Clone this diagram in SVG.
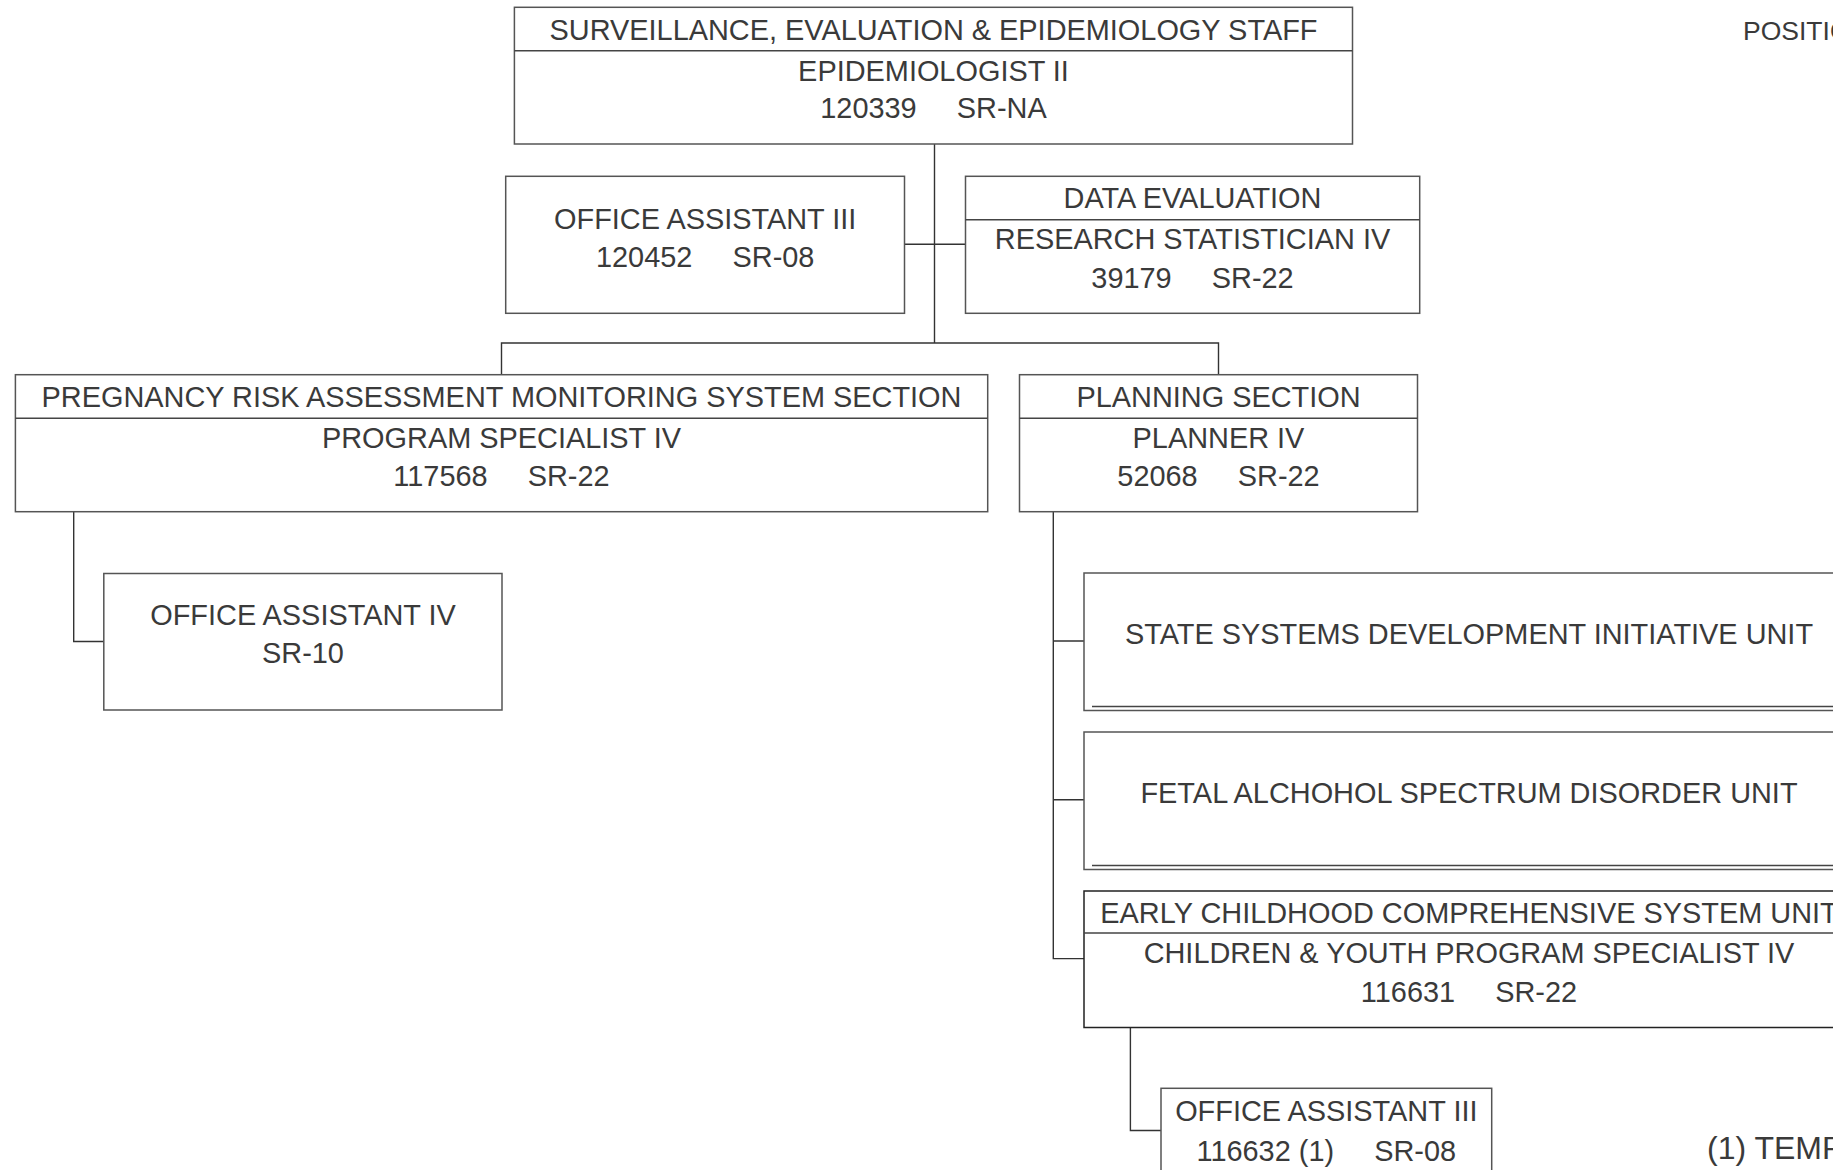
<svg xmlns="http://www.w3.org/2000/svg" width="1833" height="1170" viewBox="0 0 1833 1170">
<style>
.box{fill:#fff;stroke:#555;stroke-width:1.5}
.div{stroke:#444;stroke-width:1.5;fill:none}
.con{stroke:#333;stroke-width:1.4;fill:none}
text{font-family:"Liberation Sans",Arial,sans-serif;font-size:28.9px;fill:#3a3a3a;text-anchor:middle;white-space:pre}
.left{text-anchor:start}
</style>
<rect width="1833" height="1170" fill="#fff"/>
<g id="connectors">
<path class="con" d="M934.5 144V343M904.5 244.2H965.5M501.5 375V343H1218.5V375"/>
<path class="con" d="M73.7 511.7V641.5H103.8"/>
<path class="con" d="M1053.3 511.7V958.6H1084M1053.3 641H1084M1053.3 799.8H1084"/>
<path class="con" d="M1130.4 1027.5V1130.5H1161"/>
</g>
<g id="n-top">
<rect class="box" x="514.4" y="7.3" width="838.1" height="136.7"/>
<line class="div" x1="514.4" y1="50.7" x2="1352.5" y2="50.7"/>
<text x="933.5" y="39.5">SURVEILLANCE, EVALUATION &amp; EPIDEMIOLOGY STAFF</text>
<text x="933.5" y="81.3">EPIDEMIOLOGIST II</text>
<text x="933.5" y="117.5">120339     SR-NA</text>
</g>
<g id="n-oa3">
<rect class="box" x="505.7" y="176.3" width="398.8" height="137"/>
<text x="705.2" y="229">OFFICE ASSISTANT III</text>
<text x="705.2" y="266.5">120452     SR-08</text>
</g>
<g id="n-data">
<rect class="box" x="965.5" y="176.3" width="454.2" height="137"/>
<line class="div" x1="965.5" y1="219.8" x2="1419.7" y2="219.8"/>
<text x="1192.5" y="208">DATA EVALUATION</text>
<text x="1192.5" y="248.5">RESEARCH STATISTICIAN IV</text>
<text x="1192.5" y="287.5">39179     SR-22</text>
</g>
<g id="n-prams">
<rect class="box" x="15.4" y="374.7" width="972.3" height="137"/>
<line class="div" x1="15.4" y1="418.3" x2="987.7" y2="418.3"/>
<text x="501.5" y="407">PREGNANCY RISK ASSESSMENT MONITORING SYSTEM SECTION</text>
<text x="501.5" y="448">PROGRAM SPECIALIST IV</text>
<text x="501.5" y="485.5">117568     SR-22</text>
</g>
<g id="n-planning">
<rect class="box" x="1019.5" y="374.7" width="398" height="137"/>
<line class="div" x1="1019.5" y1="418.3" x2="1417.5" y2="418.3"/>
<text x="1218.5" y="407">PLANNING SECTION</text>
<text x="1218.5" y="448">PLANNER IV</text>
<text x="1218.5" y="485.5">52068     SR-22</text>
</g>
<g id="n-oa4">
<rect class="box" x="103.8" y="573.5" width="398.2" height="136.5"/>
<text x="303" y="624.5">OFFICE ASSISTANT IV</text>
<text x="303" y="662.5">SR-10</text>
</g>
<g id="n-ssdi">
<rect class="box" x="1084" y="573" width="790" height="137.5"/>
<line class="div" x1="1092" y1="706.5" x2="1874" y2="706.5"/>
<text x="1469" y="644">STATE SYSTEMS DEVELOPMENT INITIATIVE UNIT</text>
</g>
<g id="n-fasd">
<rect class="box" x="1084" y="732" width="790" height="137.5"/>
<line class="div" x1="1092" y1="865.5" x2="1874" y2="865.5"/>
<text x="1469" y="803">FETAL ALCHOHOL SPECTRUM DISORDER UNIT</text>
</g>
<g id="n-eccs">
<rect class="box" x="1084" y="891" width="790" height="136.5" style="stroke:#222"/>
<line class="div" x1="1084" y1="933" x2="1874" y2="933"/>
<text x="1469" y="922.5">EARLY CHILDHOOD COMPREHENSIVE SYSTEM UNIT</text>
<text x="1469" y="962.5">CHILDREN &amp; YOUTH PROGRAM SPECIALIST IV</text>
<text x="1469" y="1001.5">116631     SR-22</text>
</g>
<g id="n-oa3b">
<rect class="box" x="1161" y="1088.3" width="330.7" height="120"/>
<text x="1326.3" y="1121">OFFICE ASSISTANT III</text>
<text x="1326.3" y="1160.5">116632 (1)     SR-08</text>
</g>
<g id="legend">
<text class="left" x="1743" y="40" style="font-size:26.5px">POSITION</text>
<text class="left" x="1707" y="1159" style="font-size:32px">(1) TEMPORARY</text>
</g>
</svg>
